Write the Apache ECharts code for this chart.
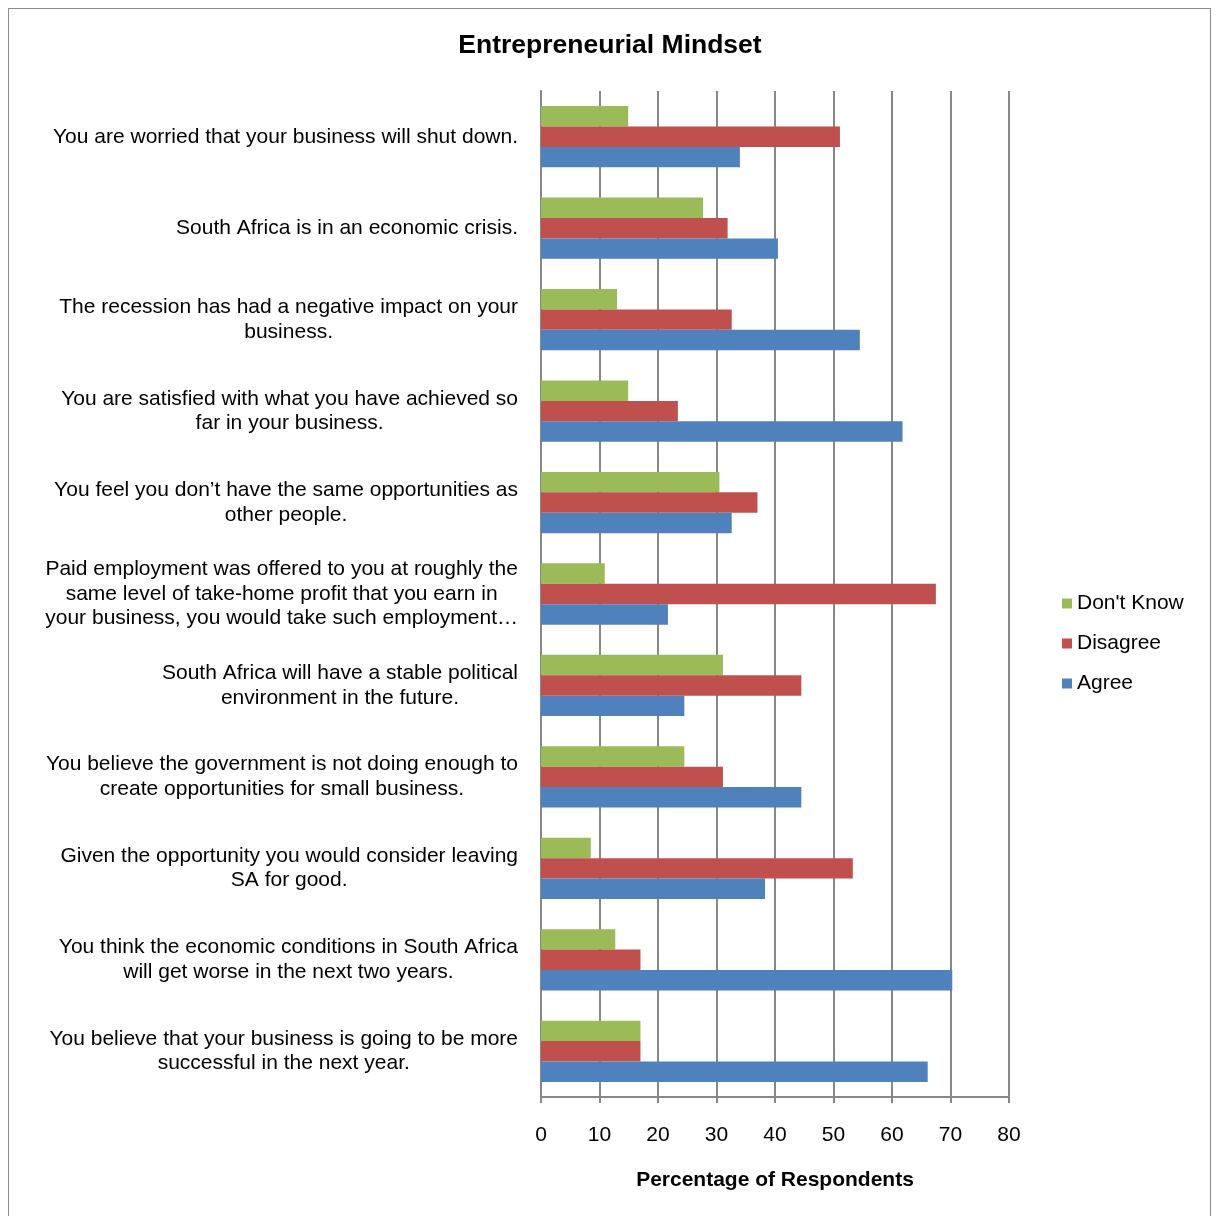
<!DOCTYPE html>
<html>
<head>
<meta charset="utf-8">
<title>Entrepreneurial Mindset</title>
<script src="https://cdn.jsdelivr.net/npm/echarts@6/dist/echarts.min.js"></script>
<style>
  html, body { margin: 0; padding: 0; background: #ffffff; }
  #frame {
    position: absolute; left: 8px; top: 8px; width: 1203px; height: 1220px;
    border: 1px solid #8c8c8c; box-sizing: border-box;
  }
  #chart { position: absolute; left: 0; top: 0; width: 1219px; height: 1216px; }
</style>
</head>
<body>
<div id="frame"></div>
<div id="chart"></div>
<script>
// Survey statements (top to bottom)
const statements = [
  'You are worried that your business will shut down.',
  'South Africa is in an economic crisis.',
  'The recession has had a negative impact on your\nbusiness.',
  'You are satisfied with what you have achieved so\nfar in your business.',
  'You feel you don\u2019t have the same opportunities as\nother people.',
  'Paid employment was offered to you at roughly the\nsame level of take-home profit that you earn in\nyour business, you would take such employment\u2026',
  'South Africa will have a stable political\nenvironment in the future.',
  'You believe the government is not doing enough to\ncreate opportunities for small business.',
  'Given the opportunity you would consider leaving\nSA for good.',
  'You think the economic conditions in South Africa\nwill get worse in the next two years.',
  'You believe that your business is going to be more\nsuccessful in the next year.'
];

// Percentage of respondents per answer
const dontKnow = [14.9, 27.7, 13.0, 14.9, 30.5, 10.9, 31.1, 24.5, 8.5, 12.7, 17.0];
const disagree = [51.1, 31.9, 32.6, 23.4, 37.0, 67.5, 44.5, 31.1, 53.3, 17.0, 17.0];
const agree    = [34.0, 40.5, 54.5, 61.8, 32.6, 21.7, 24.5, 44.5, 38.3, 70.3, 66.1];

const xTicks = { min: 0, max: 80, interval: 10 };

const FONT = '"Liberation Sans", Arial, Helvetica, sans-serif';
const GRID_GRAY = '#878787';

const chart = echarts.init(document.getElementById('chart'), null, { renderer: 'canvas' });

function barSeries(name, data, color) {
  return {
    name: name,
    type: 'bar',
    data: data,
    barGap: '0%',
    barCategoryGap: '33%',
    itemStyle: { color: color },
    emphasis: { disabled: true }
  };
}

chart.setOption({
  animation: false,
  textStyle: { fontFamily: FONT, color: '#000' },
  title: {
    text: 'Entrepreneurial Mindset',
    left: 605,
    textAlign: 'center',
    top: 27,
    textStyle: { fontFamily: FONT, fontSize: 26.5, fontWeight: 'bold', color: '#000' }
  },
  legend: {
    orient: 'vertical',
    left: 1057,
    top: 588,
    itemWidth: 10,
    itemHeight: 10,
    itemGap: 19,
    icon: 'rect',
    selectedMode: false,
    textStyle: { fontFamily: FONT, fontSize: 21, color: '#000' },
    data: ["Don't Know", 'Disagree', 'Agree']
  },
  grid: { left: 541, right: 210, top: 91, bottom: 119, containLabel: false },
  xAxis: {
    type: 'value',
    min: xTicks.min,
    max: xTicks.max,
    interval: xTicks.interval,
    name: 'Percentage of Respondents',
    nameLocation: 'middle',
    nameGap: 73,
    nameTextStyle: { fontFamily: FONT, fontSize: 21, fontWeight: 'bold', color: '#000' },
    axisLine: { show: true, lineStyle: { color: GRID_GRAY, width: 2 } },
    axisTick: { show: true, length: 6, lineStyle: { color: GRID_GRAY, width: 2 } },
    axisLabel: { fontFamily: FONT, fontSize: 21, color: '#000', margin: 28 },
    splitLine: { show: true, lineStyle: { color: GRID_GRAY, width: 2 } }
  },
  yAxis: {
    type: 'category',
    inverse: true,
    data: statements,
    axisLine: { show: true, lineStyle: { color: GRID_GRAY, width: 2 } },
    axisTick: { show: false },
    axisLabel: {
      fontFamily: FONT,
      fontSize: 21,
      color: '#000',
      lineHeight: 24.5,
      margin: 23,
      align: 'right',
      interval: 0,
      formatter: function (v) {
        return v.split('\n').map(function (line) { return '{c|' + line + '}'; }).join('\n');
      },
      rich: {
        c: { align: 'center', fontFamily: FONT, fontSize: 21, lineHeight: 24.5, color: '#000' }
      }
    }
  },
  series: [
    barSeries("Don't Know", dontKnow, '#9BBB59'),
    barSeries('Disagree', disagree, '#C0504D'),
    barSeries('Agree', agree, '#4F81BD')
  ]
});
</script>
</body>
</html>
